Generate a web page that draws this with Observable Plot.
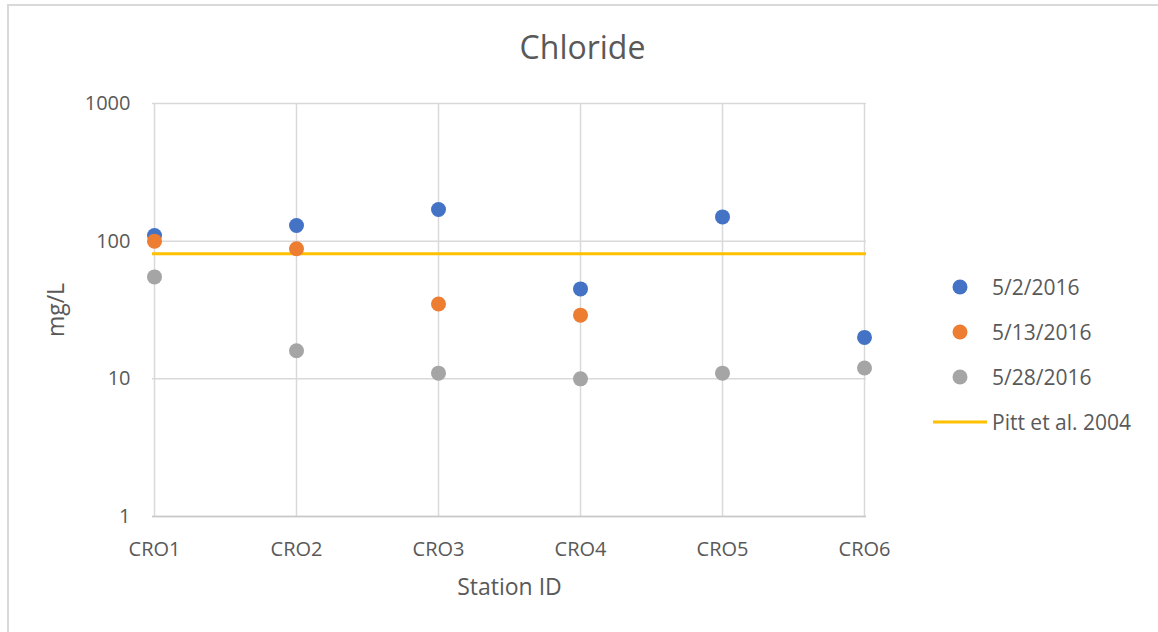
<!DOCTYPE html>
<html>
<head>
<meta charset="utf-8">
<script src="https://cdn.jsdelivr.net/npm/d3@7"></script>
<script src="https://cdn.jsdelivr.net/npm/@observablehq/plot@0.6"></script>
<style>
  html, body { margin: 0; padding: 0; background: #fff; }
  #wrap { position: relative; width: 1158px; height: 632px; overflow: hidden; font-family: "Open Sans", sans-serif; color: #595959; }
  #frame { position: absolute; left: 7px; top: 4px; width: 1170px; height: 660px; border-top: 2px solid #D9D9D9; border-left: 2px solid #D9D9D9; box-sizing: border-box; }
  #title { position: absolute; left: 7px; width: 1151px; top: 25px; text-align: center; font-size: 32px; line-height: normal; }
  #chart { position: absolute; left: 0; top: 0; }
  .lg { position: absolute; left: 925px; height: 30px; display: flex; align-items: center; font-size: 21px; white-space: nowrap; }
  .lg svg { display: block; }
</style>
</head>
<body>
<div id="wrap">
  <div id="frame"></div>
  <div id="chart"></div>
  <div id="title">Chloride</div>
  <div id="legend"></div>
</div>
<script>
// ---- data ----
const stations = ["CRO1", "CRO2", "CRO3", "CRO4", "CRO5", "CRO6"];
const seriesNames = ["5/2/2016", "5/13/2016", "5/28/2016"];
const may2 = [110, 130, 170, 45, 150, 20];
const may13 = [100, 88, 35, 29, null, null];
const may28 = [55, 16, 11, 10, 11, 12];
const pittName = "Pitt et al. 2004";
const pittValue = 81;
const yTicks = [1, 10, 100, 1000];
const seriesColors = ["#4472C4", "#ED7D31", "#A5A5A5"];
const pittColor = "#FFC000";

const seriesValues = [may2, may13, may28];
const points = seriesValues.flatMap((vals, si) =>
  vals.map((v, i) => ({station: stations[i], value: v, series: seriesNames[si]}))
      .filter(d => d.value != null)
);

const chart = Plot.plot({
  width: 1158,
  height: 632,
  marginLeft: 152,
  marginRight: 292,
  marginTop: 103,
  marginBottom: 116,
  style: {fontFamily: "Open Sans, sans-serif", fontSize: "20px", color: "#595959", background: "transparent"},
  x: {type: "point", domain: stations, padding: 0},
  y: {type: "log", domain: [1, 1000]},
  color: {domain: seriesNames, range: seriesColors},
  marks: [
    Plot.gridY(yTicks, {stroke: "#D9D9D9", strokeOpacity: 1, strokeWidth: 1.5}),
    Plot.gridX(stations, {stroke: "#D9D9D9", strokeOpacity: 1, strokeWidth: 1.5}),
    Plot.ruleY([1], {stroke: "#C8C8C8", strokeWidth: 1.5}),
    Plot.axisY(yTicks, {tickSize: 0, tickPadding: 22, tickFormat: d => String(d), label: null}),
    Plot.axisX(stations, {tickSize: 0, tickPadding: 25, label: null}),
    Plot.text(["mg/L"], {frameAnchor: "left", dx: -96, rotate: -90, textAnchor: "middle", lineAnchor: "middle", fontSize: 23, fill: "#595959"}),
    Plot.text(["Station ID"], {frameAnchor: "bottom", dy: 71, textAnchor: "middle", lineAnchor: "middle", fontSize: 23, fill: "#595959"}),
    Plot.ruleY([pittValue], {stroke: pittColor, strokeWidth: 3}),
    Plot.dot(points, {x: "station", y: "value", fill: "series", r: 7.5, stroke: "none"})
  ]
});
document.getElementById("chart").appendChild(chart);

// ---- legend ----
const legend = document.getElementById("legend");
const rowCenters = [287, 332, 377, 422];
seriesNames.forEach((name, i) => {
  const row = document.createElement("div");
  row.className = "lg";
  row.style.top = (rowCenters[i] - 15) + "px";
  row.innerHTML = `<svg width="67" height="30"><circle cx="35" cy="15" r="7.5" fill="${seriesColors[i]}"/></svg><span>${name}</span>`;
  legend.appendChild(row);
});
const prow = document.createElement("div");
prow.className = "lg";
prow.style.top = (rowCenters[3] - 15) + "px";
prow.innerHTML = `<svg width="67" height="30"><line x1="8" x2="62" y1="15" y2="15" stroke="${pittColor}" stroke-width="3"/></svg><span>${pittName}</span>`;
legend.appendChild(prow);
</script>
</body>
</html>
